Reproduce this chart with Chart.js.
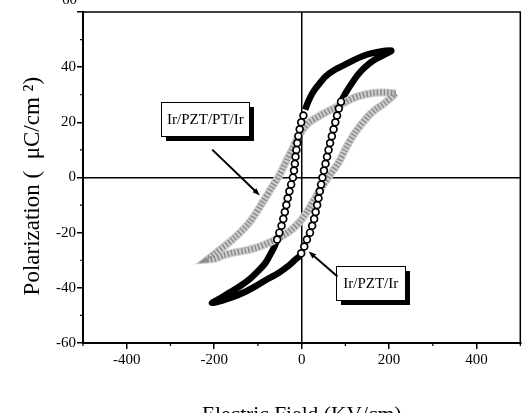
<!DOCTYPE html>
<html>
<head>
<meta charset="utf-8">
<script src="https://cdn.jsdelivr.net/npm/chart.js@4.4.1/dist/chart.umd.min.js"></script>
<style>
  html, body { margin: 0; padding: 0; background: #fff; overflow: hidden; }
  #wrap { width: 526px; height: 440px; }
</style>
</head>
<body>
<div id="wrap"><canvas id="grafico" width="526" height="440"></canvas></div>
<script>
// Ir/PZT/Ir loop (black). Solid parts of the loop and the open-circle chains are kept apart.
const pztUpperE = [90, 100, 114, 130, 145, 165, 190, 205, 175, 150, 125, 100, 75, 55, 38, 25, 15, 8];
const pztUpperP = [27.5, 30.5, 34, 37.5, 40, 42.5, 44.6, 46, 45.5, 44.6, 43, 41, 39, 36.7, 33.5, 30.7, 27.5, 24.6];

const pztLowerE = [-56, -62, -72, -83, -100, -120, -142, -165, -185, -205, -180, -160, -130, -105, -80, -52, -30, -14, -5];
const pztLowerP = [-22.5, -25, -28, -31, -34, -37, -39.5, -41.7, -43.7, -45.5, -44.5, -43.5, -41.5, -39.4, -37, -34.5, -32, -29.7, -28.5];

const pztDownCircE = [4, -1, -4.5, -7.5, -10, -12, -14, -15.5, -17.5, -20, -24, -28, -32, -35, -38.5, -42, -46, -51, -56];
const pztDownCircP = [22.5, 20, 17.5, 15, 12.5, 10, 7.5, 5, 2.5, 0, -2.5, -5, -7.5, -10, -12.5, -15, -17.5, -20, -22.5];

const pztUpCircE = [-1, 6, 12, 19, 24, 28.5, 32, 35.5, 38.5, 41.5, 44.5, 47.5, 51, 54.5, 58, 61.5, 65, 69, 73, 77, 81, 85, 90];
const pztUpCircP = [-27.5, -25, -22.5, -20, -17.5, -15, -12.5, -10, -7.5, -5, -2.5, 0, 2.5, 5, 7.5, 10, 12.5, 15, 17.5, 20, 22.5, 25, 27.5];

// Ir/PZT/PT/Ir loop (grey): descending branch then ascending branch
const ptDownE = [215, 190, 167, 130, 105, 84, 65, 46, 30, 16, 4, -7, -15, -22, -32, -41, -52, -68, -90, -120, -158, -196, -215];
const ptDownP = [30.5, 30.8, 30.7, 29.5, 27.8, 25.8, 24.4, 22.8, 21.3, 19.8, 17.6, 15, 12.5, 10, 7, 4, 0.5, -3.5, -9.2, -16.4, -22.5, -27.3, -29.7];
const ptUpE = [-215, -200, -180, -158, -130, -105, -80, -60, -40, -22, -3, 16, 27, 39, 52, 65, 84, 99, 122, 152, 170, 190, 215];
const ptUpP = [-29.7, -29.5, -28.3, -27.3, -26.5, -25.5, -24, -22.5, -20.8, -18.8, -15.8, -11.6, -8.5, -5.3, -2, 1, 5.3, 10, 16.2, 22.2, 24.8, 27, 30.5];

// ticks
const xTickLabels = [-400, -200, 0, 200, 400];
const yTickLabels = [-60, -40, -20, 0, 20, 40];
const yTopLabel = "60";

const xTitle = "Electric Field (KV/cm)";
const yTitle = "Polarization (  \u03BCC/cm \u00B2)   ";
const labelPT = "Ir/PZT/PT/Ir";
const labelPZT = "Ir/PZT/Ir";

const serif = "'Liberation Serif', 'Times New Roman', serif";

function toPoints(es, ps) {
    return es.map((e, i) => ({ x: e, y: ps[i] }));
}

const ptLoop = toPoints(ptDownE, ptDownP).concat(toPoints(ptUpE, ptUpP));

// minor ticks + top/right frame + the "60" that is cut at the top
const moldura = {
    id: "moldura",
    afterDraw(chart) {
        const { ctx, chartArea: a, scales: { x, y } } = chart;
        ctx.save();
        ctx.strokeStyle = "#000";
        ctx.lineWidth = 1.5;
        ctx.beginPath();
        ctx.moveTo(a.left, a.top);
        ctx.lineTo(a.right, a.top);
        ctx.lineTo(a.right, a.bottom);
        ctx.stroke();

        ctx.lineWidth = 1.2;
        ctx.beginPath();
        for (let v = -500; v <= 500; v += 100) {
            if (xTickLabels.includes(v)) continue;
            const px = x.getPixelForValue(v);
            ctx.moveTo(px, a.bottom);
            ctx.lineTo(px, a.bottom + 3);
        }
        for (let v = -50; v <= 50; v += 10) {
            if (v % 20 === 0) continue;
            const py = y.getPixelForValue(v);
            ctx.moveTo(a.left - 3, py);
            ctx.lineTo(a.left, py);
        }
        ctx.stroke();

        ctx.fillStyle = "#000";
        ctx.font = "15px " + serif;
        ctx.textAlign = "right";
        ctx.textBaseline = "alphabetic";
        ctx.fillText(yTopLabel, a.left - 6, 4);
        ctx.restore();
    }
};

// labelled boxes with shadow and arrows
const anotacoes = {
    id: "anotacoes",
    afterDatasetsDraw(chart) {
        const { ctx, scales: { x, y } } = chart;

        function caixa(texto, e, p, w, h) {
            const cx = x.getPixelForValue(e);
            const cy = y.getPixelForValue(p);
            const l = Math.round(cx - w / 2), t = Math.round(cy - h / 2);
            ctx.fillStyle = "#000";
            ctx.fillRect(l + 5, t + 5, w, h);
            ctx.fillStyle = "#fff";
            ctx.fillRect(l, t, w, h);
            ctx.strokeStyle = "#000";
            ctx.lineWidth = 1;
            ctx.strokeRect(l + 0.5, t + 0.5, w, h);
            ctx.fillStyle = "#000";
            ctx.font = "15px " + serif;
            ctx.textAlign = "center";
            ctx.textBaseline = "middle";
            ctx.fillText(texto, cx, cy + 1);
        }

        function seta(e0, p0, e1, p1) {
            const x0 = x.getPixelForValue(e0), y0 = y.getPixelForValue(p0);
            const x1 = x.getPixelForValue(e1), y1 = y.getPixelForValue(p1);
            const ang = Math.atan2(y1 - y0, x1 - x0);
            ctx.strokeStyle = "#000";
            ctx.lineWidth = 2;
            ctx.beginPath();
            ctx.moveTo(x0, y0);
            ctx.lineTo(x1 - 5 * Math.cos(ang), y1 - 5 * Math.sin(ang));
            ctx.stroke();
            ctx.fillStyle = "#000";
            ctx.beginPath();
            ctx.moveTo(x1, y1);
            ctx.lineTo(x1 - 8 * Math.cos(ang - 0.35), y1 - 8 * Math.sin(ang - 0.35));
            ctx.lineTo(x1 - 8 * Math.cos(ang + 0.35), y1 - 8 * Math.sin(ang + 0.35));
            ctx.closePath();
            ctx.fill();
        }

        ctx.save();
        caixa(labelPT, -220, 21.2, 88, 34);
        seta(-204.5, 10.1, -95.5, -6.5);
        caixa(labelPZT, 158, -38.4, 69, 34);
        seta(82, -35.9, 16, -26.8);
        ctx.restore();
    }
};

const canvas = document.getElementById("grafico").getContext("2d");

new Chart(canvas, {
    type: "scatter",
    data: {
        datasets: [
            {
                label: "Ir/PZT/Ir circles",
                data: toPoints(pztDownCircE, pztDownCircP).concat(toPoints(pztUpCircE, pztUpCircP)),
                showLine: false,
                pointRadius: 3.4,
                pointBorderWidth: 1.7,
                pointBackgroundColor: "#fff",
                pointBorderColor: "#000"
            },
            {
                label: "Ir/PZT/PT/Ir hatch",
                data: ptLoop,
                showLine: true,
                tension: 0.3,
                borderColor: "#8c8c8c",
                borderWidth: 6,
                borderDash: [1.5, 2],
                pointRadius: 0
            },
            {
                label: "Ir/PZT/PT/Ir",
                data: ptLoop,
                showLine: true,
                tension: 0.3,
                borderColor: "#cdcdcd",
                borderWidth: 8,
                pointRadius: 0
            },
            {
                label: "Ir/PZT/Ir upper",
                data: toPoints(pztUpperE, pztUpperP),
                showLine: true,
                tension: 0.3,
                borderColor: "#000",
                borderWidth: 6.5,
                pointRadius: 0
            },
            {
                label: "Ir/PZT/Ir lower",
                data: toPoints(pztLowerE, pztLowerP),
                showLine: true,
                tension: 0.3,
                borderColor: "#000",
                borderWidth: 6.5,
                pointRadius: 0
            }
        ]
    },
    options: {
        responsive: false,
        animation: false,
        layout: { padding: { top: 12, right: 3, bottom: 0, left: 0 } },
        plugins: {
            legend: { display: false },
            tooltip: { enabled: false }
        },
        scales: {
            x: {
                type: "linear",
                min: -500,
                max: 500,
                afterFit: s => { s.height = 97; },
                border: { display: true, color: "#000", width: 2 },
                grid: {
                    drawOnChartArea: true,
                    color: c => (c.tick && c.tick.value === 0 ? "#000" : "rgba(0,0,0,0)"),
                    lineWidth: 1.5,
                    tickLength: 6,
                    tickWidth: 1.5,
                    tickColor: c => (c.tick && xTickLabels.includes(c.tick.value) ? "#000" : "rgba(0,0,0,0)")
                },
                ticks: {
                    stepSize: 100,
                    autoSkip: false,
                    maxRotation: 0,
                    padding: 2,
                    color: "#000",
                    font: { family: serif, size: 15 },
                    callback: v => (xTickLabels.includes(v) ? String(v) : "")
                },
                title: {
                    display: true,
                    text: xTitle,
                    color: "#000",
                    font: { family: serif, size: 21.5 },
                    padding: { top: 0, bottom: 11.6 }
                }
            },
            y: {
                type: "linear",
                min: -60,
                max: 60,
                afterFit: s => { s.width = 83; },
                border: { display: true, color: "#000", width: 2 },
                grid: {
                    drawOnChartArea: true,
                    color: c => (c.tick && c.tick.value === 0 ? "#000" : "rgba(0,0,0,0)"),
                    lineWidth: 1.5,
                    tickLength: 6,
                    tickWidth: 1.5,
                    tickColor: c => (c.tick && c.tick.value % 20 === 0 ? "#000" : "rgba(0,0,0,0)")
                },
                ticks: {
                    stepSize: 10,
                    autoSkip: false,
                    padding: 1,
                    color: "#000",
                    font: { family: serif, size: 15 },
                    callback: v => (yTickLabels.includes(v) ? String(v) : "")
                },
                title: {
                    display: true,
                    text: yTitle,
                    color: "#000",
                    font: { family: serif, size: 23 },
                    padding: { top: 19, bottom: 0 }
                }
            }
        }
    },
    plugins: [moldura, anotacoes]
});
</script>
</body>
</html>
